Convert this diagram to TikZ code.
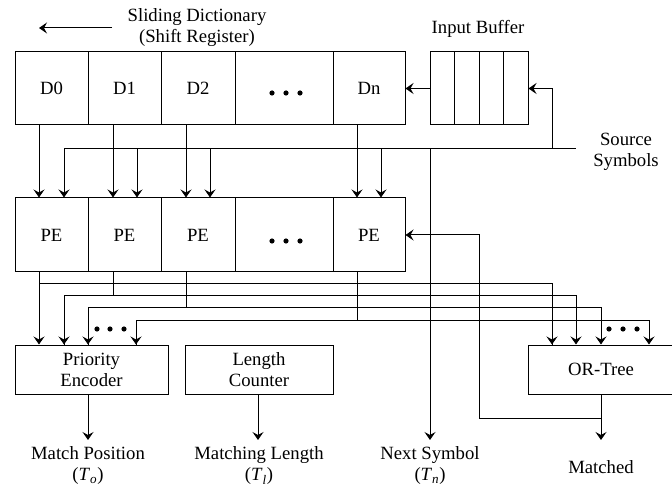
\documentclass[tikz,border=0pt]{standalone}
\usepackage{fontspec}
\setmainfont{Liberation Serif}
\usetikzlibrary{arrows.meta}

\begin{document}
\begin{tikzpicture}[x=1pt,y=-1pt,
  font=\fontsize{18.7}{21}\selectfont,
  wire/.style={line width=1pt},
  feed/.style={wire,-{Stealth[length=8pt,width=11pt,inset=3pt]}},
  cell/.style={draw,line width=1pt,inner sep=0pt,minimum height=73pt},
  pecell/.style={draw,line width=1pt,inner sep=0pt,minimum height=74pt},
  bufcell/.style={draw,line width=1pt,inner sep=0pt,minimum height=73pt,minimum width=24.5pt},
  blk/.style={draw,line width=1pt,inner sep=0pt,minimum height=49pt,align=center},
  lbl/.style={align=center,inner sep=0pt},
  dot/.style={fill=black}]
\useasboundingbox (0,0) rectangle (672,494);
\clip (0,0) rectangle (672,494);

% sliding dictionary (shift register)
\node[cell,minimum width=73pt] (d0) at (51.5,88.5) {D0};
\node[cell,minimum width=73pt] (d1) at (124.5,88.5) {D1};
\node[cell,minimum width=74pt] (d2) at (198,88.5) {D2};
\node[cell,minimum width=98pt] (dd) at (284,88.5) {};
\node[cell,minimum width=72pt] (dn) at (369,88.5) {Dn};
\foreach \x in {272,286,300} \fill[dot] (\x,93) circle (2.6pt);

\node[lbl] (dictlbl) at (197,28) {Sliding Dictionary\\(Shift Register)};
\coordinate (shiftA) at (112,28);
\coordinate (shiftB) at (39,28);
\draw[feed] (shiftA) -- (shiftB);

% input buffer
\node[bufcell] (b1) at (442.25,88.5) {};
\node[bufcell] (b2) at (466.75,88.5) {};
\node[bufcell] (b3) at (491.25,88.5) {};
\node[bufcell] (b4) at (515.75,88.5) {};
\node[lbl] (buflbl) at (478,29) {Input Buffer};

% processing elements
\node[pecell,minimum width=73pt] (p0) at (51.5,235) {PE};
\node[pecell,minimum width=73pt] (p1) at (124.5,235) {PE};
\node[pecell,minimum width=74pt] (p2) at (198,235) {PE};
\node[pecell,minimum width=98pt] (pd) at (284,235) {};
\node[pecell,minimum width=72pt] (pn) at (369,235) {PE};
\foreach \x in {272,286,300} \fill[dot] (\x,241) circle (2.6pt);

% output blocks
\node[blk,minimum width=153pt] (enc) at (91.5,369.5) {Priority\\Encoder};
\node[blk,minimum width=148pt] (len) at (259,369.5) {Length\\Counter};
\node[blk,minimum width=146pt] (ort) at (601,369.5) {OR-Tree};

% source symbols bus
\node[lbl] (srclbl) at (626,152) {Source\\Symbols};
\coordinate (srcL) at (64,149);
\coordinate (srcR) at (576,149);
\draw[wire] (srcL) -- (srcR);

% dictionary cells feed the PEs
\draw[feed] (d0.south -| 39,0) -- (p0.north -| 39,0);
\draw[feed] (d1.south -| 113,0) -- (p1.north -| 113,0);
\draw[feed] (d2.south -| 186,0) -- (p2.north -| 186,0);
\draw[feed] (dn.south -| 357,0) -- (pn.north -| 357,0);

% source symbols feed the PEs
\draw[feed] (srcL) -- (p0.north -| srcL);
\draw[feed] (137,149) -- (p1.north -| 137,0);
\draw[feed] (210,149) -- (p2.north -| 210,0);
\draw[feed] (381,149) -- (pn.north -| 381,0);

% source symbols into the input buffer, buffer into Dn
\draw[feed] (552,149) |- (b4.east);
\draw[feed] (b1.west) -- (dn.east |- b1.west);

% next symbol output
\node[lbl] (nextlbl) at (430,466) {Next Symbol\\(\textit{T}\textsubscript{\textit{n}})};
\draw[feed] (430,149) -- (430,440);

% PE outputs to the priority encoder and the OR-tree
\draw[wire] (p0.south -| 39,0) -- (39,284) -| (552,345);
\draw[feed] (39,284) -- (enc.north -| 39,0);
\draw[feed] (552,300) -- (ort.north -| 552,0);

\draw[wire] (p1.south -| 113,0) -- (113,296);
\draw[wire] (64,345) |- (576,296) -- (576,330);
\draw[feed] (64,330) -- (enc.north -| 64,0);
\draw[feed] (576,330) -- (ort.north -| 576,0);

\draw[wire] (p2.south -| 186,0) -- (186,308);
\draw[wire] (88,345) |- (601,308) -- (601,330);
\draw[feed] (88,330) -- (enc.north -| 88,0);
\draw[feed] (601,330) -- (ort.north -| 601,0);

\draw[wire] (pn.south -| 357,0) -- (357,321);
\draw[wire] (136,345) |- (649,321) -- (649,330);
\draw[feed] (136,330) -- (enc.north -| 136,0);
\draw[feed] (649,330) -- (ort.north -| 649,0);

\foreach \x in {97,110,124} \fill[dot] (\x,329) circle (2.6pt);
\foreach \x in {609,623,637} \fill[dot] (\x,329) circle (2.6pt);

% matched signal fed back to the last PE
\coordinate (mj) at (601,418);
\draw[feed] (mj) -| (479,235) -- (pn.east);
\draw[feed] (ort.south) -- (601,440);
\node[lbl] (matchedlbl) at (601,467) {Matched};

% encoder and counter outputs
\draw[feed] (enc.south -| 88,0) -- (88,440);
\node[lbl] (poslbl) at (88,466) {Match Position\\(\textit{T}\textsubscript{\textit{o}})};
\draw[feed] (len.south -| 258,0) -- (258,440);
\node[lbl] (lenlbl) at (259,466) {Matching Length\\(\textit{T}\textsubscript{\textit{l}})};
\end{tikzpicture}
\end{document}
